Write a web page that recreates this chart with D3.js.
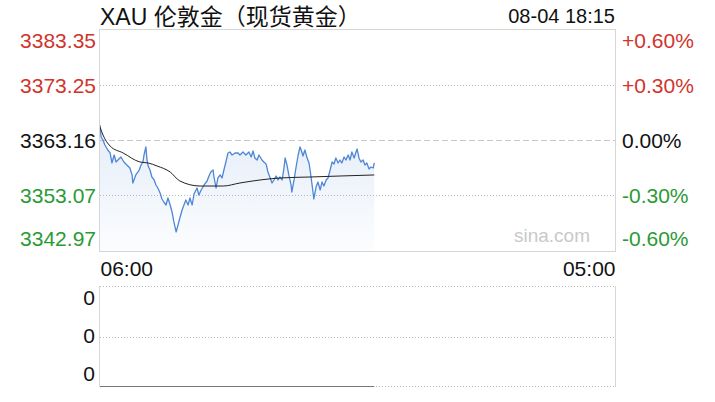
<!DOCTYPE html>
<html><head><meta charset="utf-8">
<script src="https://cdn.jsdelivr.net/npm/d3@7"></script>
<style>
body{margin:0;background:#fff;}
svg{display:block;}
text{font-family:"Liberation Sans",Arial,"Noto Sans CJK SC",sans-serif;}
</style>
</head><body>
<svg id="c" width="715" height="402"></svg>
<script>
const title = "XAU 伦敦金（现货黄金）";
const dateLabel = "08-04 18:15";
const watermark = "sina.com";

// minutes after 06:00
const minutes = [0,3,8,13,21,27,32,38,43,48,56,64,72,80,86,88,96,105,110,115,118,121,123,126,129,134,139,145,150,155,161,166,171,177,182,188,193,198,204,209,214,220,225,230,236,241,247,252,260,265,271,279,287,292,297,303,305,311,316,322,327,332,338,343,348,354,362,370,375,383,391,399,405,410,415,421,426,434,439,445,450,456,461,466,472,477,482,488,493,496,501,506,512,514,520,525,531,536,539,544,549,555,560,563,568,573,579,584,590,595,600,606,611,616,622,627,632,638,643,648,654,659,665,670,675,681,686,689,694,699,705,710,715,721,726,732,735];
const prices = [3365.89,3363.71,3363.16,3362.25,3361.34,3360.80,3358.98,3360.43,3359.16,3359.52,3360.07,3359.16,3358.61,3358.07,3356.80,3355.34,3356.80,3357.70,3358.61,3359.16,3360.43,3361.34,3361.89,3359.52,3358.43,3357.70,3356.43,3355.89,3354.98,3354.43,3353.52,3352.43,3351.88,3351.34,3352.61,3351.34,3350.07,3348.25,3346.43,3347.70,3348.97,3350.43,3351.34,3352.25,3351.34,3352.61,3351.34,3353.34,3354.43,3353.16,3354.07,3354.98,3355.70,3356.61,3357.34,3357.70,3356.61,3354.43,3356.25,3356.80,3356.25,3357.70,3359.34,3360.80,3360.98,3360.43,3360.80,3360.80,3360.43,3360.98,3360.43,3360.98,3360.07,3361.16,3359.89,3359.52,3360.43,3359.52,3359.16,3358.80,3357.34,3356.25,3355.34,3355.89,3356.61,3355.89,3356.43,3355.89,3358.07,3359.89,3358.61,3356.80,3354.98,3353.70,3355.89,3358.07,3360.43,3361.89,3361.34,3360.25,3361.34,3359.89,3358.98,3357.70,3355.16,3352.43,3354.61,3355.52,3354.07,3355.52,3354.79,3355.89,3356.25,3357.52,3359.16,3358.80,3359.89,3358.98,3359.52,3358.98,3360.07,3359.52,3360.43,3359.52,3360.98,3359.89,3360.98,3361.52,3359.89,3359.16,3359.52,3358.61,3358.98,3357.89,3358.25,3358.07,3358.98];

const avgMinutes = [0,8,27,62,107,129,153,188,214,268,330,375,429,482,563,643,735];
const avgPrices = [3365.53,3364.07,3362.07,3360.80,3359.16,3358.98,3358.43,3357.34,3355.70,3354.79,3354.79,3355.34,3355.89,3356.25,3356.43,3356.61,3356.80];

const volMinutes = [0,735];
const volumes = [0,0];

const priceTicks = [3383.35,3373.25,3363.16,3353.07,3342.97];
const priceTickColors = ["#d1342c","#d1342c","#111","#2a9a34","#2a9a34"];
const pctTicks = ["+0.60%","+0.30%","0.00%","-0.30%","-0.60%"];
const timeTicks = [0,1380];
const timeLabels = ["06:00","05:00"];
const volTicks = [1,0.5,0];
const volLabels = ["0","0","0"];

const svg = d3.select("#c");
const L = 100, R = 615, T = 29, B = 251;
const VT = 286, VB = 387;

const x = d3.scaleLinear().domain([0,1380]).range([L,R]);
const y = d3.scaleLinear().domain([3342.97,3383.35]).range([B,T]);
const yv = d3.scaleLinear().domain([0,1]).range([VB,VT]);

// gradient
const defs = svg.append("defs");
const g = defs.append("linearGradient").attr("id","fillg").attr("x1",0).attr("y1",0).attr("x2",0).attr("y2",1);
g.append("stop").attr("offset","0%").attr("stop-color","#5a8ed8").attr("stop-opacity",0.16);
g.append("stop").attr("offset","100%").attr("stop-color","#5a8ed8").attr("stop-opacity",0.02);

// title
svg.append("text").attr("x",L).attr("y",24.5).attr("font-size",23).attr("fill","#111").text(title);
svg.append("text").attr("x",R).attr("y",23).attr("font-size",20).attr("fill","#111").attr("text-anchor","end").text(dateLabel);

// grid lines main
priceTicks.slice(1,4).forEach((v,i)=>{
  svg.append("line").attr("x1",L).attr("x2",R).attr("y1",Math.round(y(v))+0.5).attr("y2",Math.round(y(v))+0.5)
    .attr("stroke", i===1 ? "#c8c8c8" : "#bbb")
    .attr("stroke-dasharray", i===1 ? "6,3" : "1,2");
});

// area + lines
const data = minutes.map((m,i)=>({m, p:prices[i]}));
const area = d3.area().x(d=>x(d.m)).y0(B).y1(d=>y(d.p));
svg.append("path").datum(data).attr("d",area).attr("fill","url(#fillg)");
const line = d3.line().x(d=>x(d.m)).y(d=>y(d.p));
svg.append("path").datum(data).attr("d",line).attr("fill","none").attr("stroke","#4f86d6").attr("stroke-width",1.3).attr("stroke-linejoin","round");
const avgData = avgMinutes.map((m,i)=>({m, p:avgPrices[i]}));
svg.append("path").datum(avgData).attr("d",d3.line().x(d=>x(d.m)).y(d=>y(d.p)).curve(d3.curveMonotoneX))
  .attr("fill","none").attr("stroke","#222").attr("stroke-width",1);

// border main
svg.append("rect").attr("x",L-0.5).attr("y",T+0.5).attr("width",R-L+1).attr("height",B-T).attr("fill","none").attr("stroke","#d6d6d6");

// watermark
svg.append("text").attr("x",590).attr("y",242).attr("font-size",19).attr("fill","#c9c9c9").attr("text-anchor","end").text(watermark);

// left axis
const yAxisL = d3.axisLeft(y).tickValues(priceTicks).tickSize(0).tickPadding(0).tickFormat(d3.format(".2f"));
const gl = svg.append("g").attr("transform",`translate(${L-4},0)`).call(yAxisL);
gl.select(".domain").remove();
gl.selectAll("text").attr("font-size",21).attr("font-family",null)
  .attr("fill",(d,i)=>priceTickColors[i])
  .attr("dy",(d,i)=> i===0 ? "18.5px" : (i===4 ? "-5.5px" : "7.5px"));

// right axis
const yAxisR = d3.axisRight(y).tickValues(priceTicks).tickSize(0).tickPadding(0).tickFormat((d,i)=>pctTicks[i]);
const gr = svg.append("g").attr("transform",`translate(${R+7},0)`).call(yAxisR);
gr.select(".domain").remove();
gr.selectAll("text").attr("font-size",21).attr("font-family",null)
  .attr("fill",(d,i)=>priceTickColors[i])
  .attr("dy",(d,i)=> i===0 ? "18.5px" : (i===4 ? "-5.5px" : "7.5px"));

// bottom axis
const xAxis = d3.axisBottom(x).tickValues(timeTicks).tickSize(0).tickPadding(0).tickFormat((d,i)=>timeLabels[i]);
const gx = svg.append("g").attr("transform",`translate(0,${B})`).call(xAxis);
gx.select(".domain").remove();
gx.selectAll("text").attr("font-size",21).attr("font-family",null).attr("fill","#111")
  .attr("dy","24.5px").attr("text-anchor",(d,i)=> i===0 ? "start" : "end");

// volume panel
[VT,(VT+VB)/2].forEach(yy=>{
  svg.append("line").attr("x1",L).attr("x2",R).attr("y1",Math.round(yy)+0.5).attr("y2",Math.round(yy)+0.5)
    .attr("stroke","#bbb").attr("stroke-dasharray","1,2");
});
svg.append("line").attr("x1",L).attr("x2",R).attr("y1",VB-0.5).attr("y2",VB-0.5).attr("stroke","#bbb").attr("stroke-dasharray","1,2");
svg.append("line").attr("x1",L-0.5).attr("x2",L-0.5).attr("y1",VT).attr("y2",VB).attr("stroke","#d6d6d6");
svg.append("line").attr("x1",R+0.5).attr("x2",R+0.5).attr("y1",VT).attr("y2",VB).attr("stroke","#d6d6d6");
const volData = volMinutes.map((m,i)=>({m, v:volumes[i]}));
svg.append("path").datum(volData).attr("d",d3.line().x(d=>x(d.m)).y(d=>yv(d.v)-0.5))
  .attr("fill","none").attr("stroke","#777").attr("stroke-width",1);

const yAxisV = d3.axisLeft(yv).tickValues(volTicks).tickSize(0).tickPadding(0).tickFormat((d,i)=>volLabels[i]);
const gv = svg.append("g").attr("transform",`translate(${L-5},0)`).call(yAxisV);
gv.select(".domain").remove();
gv.selectAll("text").attr("font-size",21).attr("font-family",null).attr("fill","#111")
  .attr("dy",(d,i)=> i===0 ? "18.5px" : (i===2 ? "-6.5px" : "6px"));
</script>
</body></html>
